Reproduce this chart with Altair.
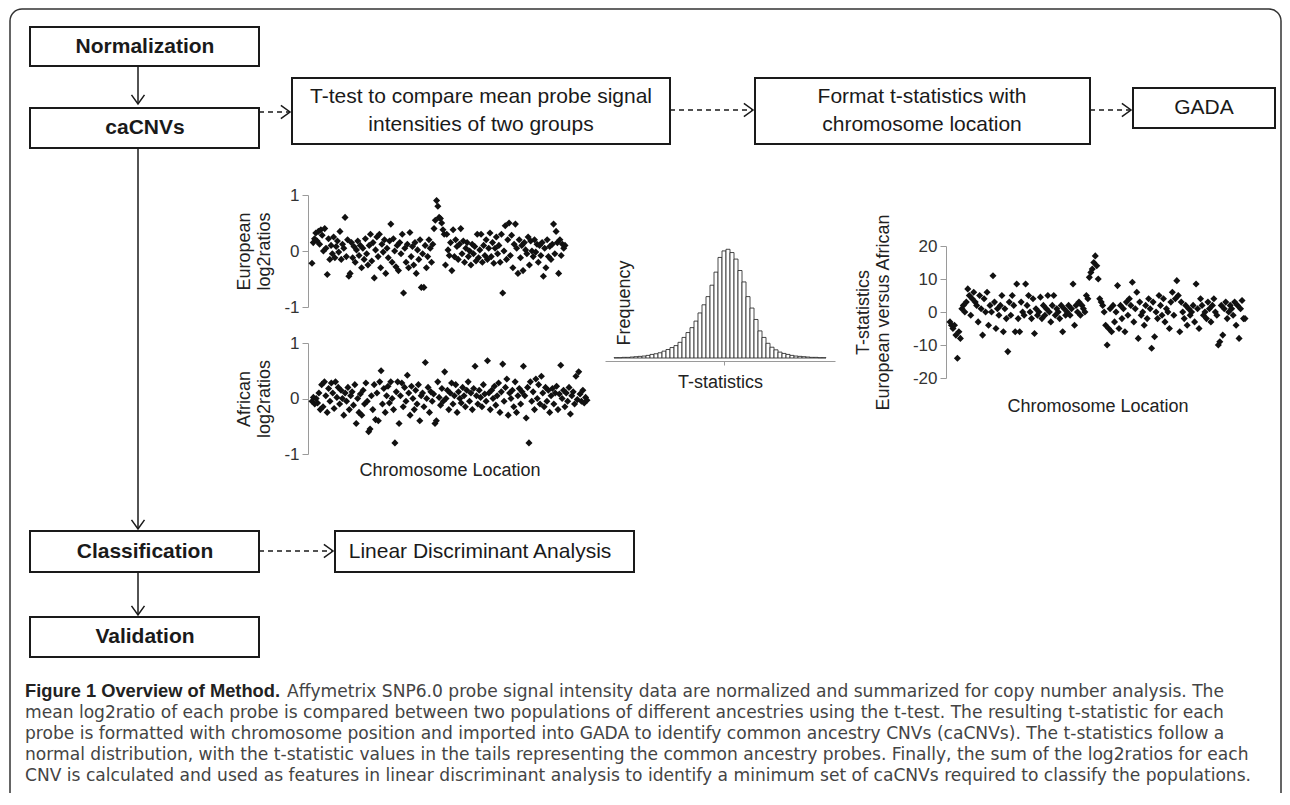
import altair as alt
import pandas as pd

# ---------------- values ----------------
european = [
    -0.22, 0.15, 0.22, 0.32, 0.18, 0.35, 0.12, 0.38, 0.28, 0.0, 0.4, 0.05, -0.42, 0.22, -0.15, 0.1, -0.05, 0.25, -0.12, 0.08,
    0.18, -0.02, 0.35, -0.15, 0.12, 0.05, 0.6, -0.1, 0.2, -0.45, -0.4, 0.15, -0.12, 0.08, -0.2, 0.02, 0.18, -0.08, 0.1, -0.3,
    0.05, -0.15, 0.22, -0.05, -0.25, 0.1, 0.3, -0.18, 0.15, -0.48, 0.02, 0.25, -0.1, 0.3, -0.3, 0.12, -0.02, 0.2, -0.4, 0.05,
    -0.12, 0.18, 0.48, -0.2, 0.22, 0.0, -0.28, 0.1, -0.35, 0.15, -0.05, 0.3, -0.75, 0.05, -0.2, 0.12, -0.3, 0.33, -0.1, 0.08,
    -0.25, 0.15, -0.4, 0.02, -0.15, 0.2, -0.65, -0.05, -0.65, 0.1, -0.3, -0.1, 0.2, 0.05, -0.2, 0.12, 0.4, 0.55, 0.9, 0.8,
    0.6, 0.58, 0.5, 0.38, 0.3, -0.25, 0.3, 0.02, -0.08, 0.15, -0.35, 0.38, -0.1, 0.2, 0.08, -0.15, 0.12, 0.4, -0.05, 0.18,
    -0.2, 0.05, 0.15, -0.1, 0.0, -0.25, 0.12, -0.05, 0.08, -0.18, 0.3, -0.12, 0.02, 0.3, -0.2, 0.1, -0.08, 0.2, -0.15, 0.05,
    0.32, -0.1, 0.15, -0.22, 0.05, 0.25, -0.05, 0.1, -0.2, 0.3, -0.75, 0.0, 0.45, -0.15, 0.2, 0.5, -0.08, 0.28, -0.3, 0.12,
    0.48, 0.05, -0.4, 0.2, -0.12, 0.1, -0.35, 0.15, 0.02, -0.05, 0.25, -0.25, 0.18, 0.0, -0.1, 0.2, -0.02, 0.12, -0.2, 0.1,
    -0.08, 0.15, -0.45, 0.05, -0.3, 0.2, -0.1, 0.08, -0.15, 0.12, 0.48, -0.05, 0.35, 0.15, -0.4, 0.2, -0.08, 0.12, 0.05, 0.1,
]
african = [
    -0.05, 0.02, -0.1, 0.0, -0.08, 0.1, -0.2, 0.25, -0.15, 0.3, 0.05, -0.25, 0.18, -0.05, 0.28, 0.1, -0.18, 0.3, 0.02, 0.2,
    -0.1, 0.15, 0.0, -0.3, 0.1, -0.05, 0.2, -0.2, 0.05, 0.12, -0.12, 0.25, -0.45, 0.0, -0.25, 0.08, -0.3, 0.15, -0.1, 0.28,
    -0.05, -0.6, -0.55, 0.05, -0.2, 0.25, -0.38, 0.1, -0.4, 0.3, 0.5, -0.1, 0.18, -0.25, 0.05, 0.22, -0.08, 0.3, 0.0, -0.2,
    -0.8, 0.12, 0.3, -0.45, 0.05, 0.28, -0.15, 0.2, -0.05, 0.42, 0.1, -0.3, 0.22, 0.0, -0.2, 0.15, -0.1, 0.25, -0.4, 0.05,
    0.1, -0.15, 0.65, 0.0, 0.2, -0.25, 0.12, -0.05, 0.08, -0.45, -0.4, 0.3, 0.02, -0.12, 0.18, -0.05, 0.48, 0.0, 0.15, -0.2,
    0.1, 0.28, -0.1, 0.05, 0.25, -0.25, 0.12, 0.0, -0.08, 0.2, 0.05, -0.15, 0.15, 0.3, -0.05, 0.1, -0.2, 0.18, 0.58, 0.05,
    -0.1, 0.15, 0.02, -0.15, 0.25, 0.08, -0.05, 0.68, 0.1, -0.2, 0.15, 0.0, 0.22, -0.12, 0.05, 0.28, -0.25, 0.12, 0.62, -0.05,
    0.2, 0.35, -0.3, 0.1, 0.0, 0.15, -0.15, 0.3, -0.25, 0.05, 0.18, -0.1, 0.12, 0.58, 0.05, -0.35, 0.2, -0.8, 0.3, -0.05,
    0.12, -0.2, 0.35, 0.0, 0.25, -0.1, 0.4, 0.1, -0.15, 0.2, -0.05, 0.15, -0.25, 0.05, 0.18, -0.1, 0.1, 0.22, -0.2, 0.08,
    0.6, 0.0, 0.15, -0.15, 0.1, -0.05, 0.2, -0.28, 0.05, 0.12, -0.1, 0.4, -0.02, 0.48, 0.08, -0.05, 0.15, -0.08, 0.02, -0.03,
]
tstat = [
    -3, -4, -5, -4, -7, -14, -6, -8, 1, 2, 0, 3, 7, 5, -1, 4, 6, 3, 2, -3,
    5, 1, -7, 4, 0, 6, -4, 2, 0, 11, 3, -5, 1, -1, 2, 5, -6, 1, -2, -12,
    3, -1, 5, 2, -6, 8.5, -2, -6, 3, 0, -1, 8.5, 2, 5, 0, -2, 4, -6.5, 1, -1,
    0, 4.5, -2, 2, -1, 1, 5, 0, -3, 2, 5, -1, 1, 0, -2, 2, -6, 1, -1, 0,
    2, -1, 1, 8.5, -4, 2, 0, 3, -1, 2, 1, 0, 5, 4, 10.5, 12, 13, 15, 17, 14,
    10, 4, 3, 2, 0, -4, -10, -5, 1, -6, 2, -3, 0, 8, -5, 2, -2, 1, -6, 3,
    -1, 4, 2, 9, -3, 1, 6, -8, 3, -1, 0, -4, 2, -2, 4, 1, -11, 3, -7.5, 0,
    -2, 5, 2, -1, 4, -3, 1, 0, -5, 3, 6, -1, 4, 9.5, 5, -6, 3, 0, -2, 2,
    -4, 1, -1, 0, 2, -3, 8.5, 1, -5, 4, 2, -1, 0, -2, 3, 1, -3, 2, 4, 0,
    -1, -10, -9, 2, -7, 1, 3, -2, 0, 2, 1, -1, 3, -4, 2, -8, 1, 3.5, -2, -2,
]
hist_counts = [1, 1, 2, 2, 3, 4, 5, 6, 8, 11, 13, 16, 21, 26, 32, 38, 48, 63, 78, 93,
               113, 138, 163, 188, 223, 263, 308, 328, 333, 323, 303, 268, 233, 188, 153, 118, 83, 63, 45, 33,
               25, 18, 14, 11, 8, 6, 5, 4, 3, 2, 2, 1, 1]
hist_t = list(range(-27, -27 + len(hist_counts)))

box_names = ["Normalization", "caCNVs", "Classification", "Validation"]
box_step_lines = ["T-test to compare mean probe signal", "intensities of two groups",
                  "Format t-statistics with", "chromosome location",
                  "GADA", "Linear Discriminant Analysis"]
caption_title = "Figure 1 Overview of Method."
caption_lines = [
    "Affymetrix SNP6.0 probe signal intensity data are normalized and summarized for copy number analysis. The",
    "mean log2ratio of each probe is compared between two populations of different ancestries using the t-test. The resulting t-statistic for each",
    "probe is formatted with chromosome position and imported into GADA to identify common ancestry CNVs (caCNVs). The t-statistics follow a",
    "normal distribution, with the t-statistic values in the tails representing the common ancestry probes. Finally, the sum of the log2ratios for each",
    "CNV is calculated and used as features in linear discriminant analysis to identify a minimum set of caCNVs required to classify the populations.",
]

# ---------------- layout (page pixels) ----------------
W, H = 1274, 785
M = 8
FONT = "Liberation Sans"
CAP_FONT = "DejaVu Sans"
INK = "#1a1a1a"


def sx():
    return alt.Scale(domain=[M, M + W], range=[0, W], nice=False, zero=False)


def sy():
    return alt.Scale(domain=[M, M + H], range=[0, H], nice=False, zero=False)


def pos():
    return dict(x=alt.X("x:Q", scale=sx(), axis=None),
                y=alt.Y("y:Q", scale=sy(), axis=None))


frame = pd.DataFrame({"x": [10], "x2": [1281], "y": [9], "y2": [900]})
boxes = pd.DataFrame({
    "x": [30, 30, 292, 755, 1133, 30, 335, 30],
    "x2": [259, 259, 670, 1090, 1275, 259, 634, 259],
    "y": [27, 108, 78, 78, 88, 531, 531, 617],
    "y2": [66, 148, 144, 144, 128, 572, 572, 657],
})
bold_lab = pd.DataFrame({"text": box_names, "x": [145, 145, 145, 145], "y": [47, 128, 552, 637]})
norm_lab = pd.DataFrame({"text": box_step_lines,
                         "x": [481, 481, 922, 922, 1204, 480],
                         "y": [97, 125, 97, 125, 108, 552]})
solid = pd.DataFrame({"x": [138, 138, 138], "y": [66, 148, 572], "x2": [138, 138, 138], "y2": [104, 529, 615]})
dashed = pd.DataFrame({"x": [259, 670, 1090, 259], "y": [112, 110, 110, 551],
                       "x2": [289, 752, 1130, 332], "y2": [112, 110, 110, 551]})
heads = pd.DataFrame({"x": [138, 138, 138, 290, 753, 1131, 333],
                      "y": [104, 529, 615, 112, 110, 110, 551],
                      "ang": [90, 90, 90, 0, 0, 0, 0]})
cap_df = pd.DataFrame({"text": caption_lines, "x": [287, 25, 25, 25, 25], "y": [692, 713, 734, 755, 776]})
cap_title_df = pd.DataFrame({"text": [caption_title], "x": [25], "y": [692]})

diagram = alt.layer(
    alt.Chart(frame).mark_rect(fillOpacity=0, stroke="#333", strokeWidth=1.5, cornerRadius=12).encode(
        x2="x2:Q", y2="y2:Q", **pos()),
    alt.Chart(boxes).mark_rect(fill="white", stroke=INK, strokeWidth=2).encode(x2="x2:Q", y2="y2:Q", **pos()),
    alt.Chart(solid).mark_rule(stroke=INK, strokeWidth=1.5).encode(x2="x2:Q", y2="y2:Q", **pos()),
    alt.Chart(dashed).mark_rule(stroke=INK, strokeWidth=1.5, strokeDash=[5, 4]).encode(x2="x2:Q", y2="y2:Q", **pos()),
    alt.Chart(heads).mark_point(shape="M -1.4 -1 L 0 0 L -1.4 1", filled=False, size=170, stroke=INK,
                                strokeWidth=1.5, opacity=1).encode(angle=alt.Angle("ang:Q", scale=None), **pos()),
    alt.Chart(bold_lab).mark_text(font=FONT, fontSize=21, fontWeight="bold", color=INK, align="center",
                                  baseline="middle").encode(text="text:N", **pos()),
    alt.Chart(norm_lab).mark_text(font=FONT, fontSize=21, color=INK, align="center",
                                  baseline="middle").encode(text="text:N", **pos()),
    alt.Chart(cap_title_df).mark_text(font=FONT, fontSize=18.3, fontWeight="bold", color="#222", align="left",
                                      baseline="middle").encode(text="text:N", **pos()),
    alt.Chart(cap_df).mark_text(font=CAP_FONT, fontSize=17.1, color="#444", align="left",
                                baseline="middle").encode(text="text:N", **pos()),
)

axis_style = dict(grid=False, domainColor="#9a9a9a", tickColor="#9a9a9a", labelColor="#333", labelFont=FONT,
                  labelFontSize=17, titleFont=FONT, titleFontSize=18, titleFontWeight="normal", titleColor="#222")


def scatter(values, x_left, x_right, y_bottom, y_top, axis_x, y_dom, y_ticks, y_title, title_pad, x_axis):
    df = pd.DataFrame({"pos": list(range(len(values))), "val": values})
    return alt.Chart(df).mark_point(shape="diamond", filled=True, size=50, color="#111", opacity=1).encode(
        x=alt.X("pos:Q", scale=alt.Scale(domain=[0, len(values) - 1], range=[x_left - M, x_right - M],
                                         nice=False, zero=False), axis=x_axis),
        y=alt.Y("val:Q", scale=alt.Scale(domain=y_dom, range=[y_bottom - M, y_top - M], nice=False, zero=False),
                axis=alt.Axis(orient="left", offset=-(axis_x - M), values=y_ticks, labelExpr="'' + datum.value",
                              tickSize=6, labelPadding=3, title=y_title, titlePadding=title_pad, **axis_style)),
    )


def loc_axis(y_px, pad):
    return alt.Axis(orient="bottom", offset=(y_px - M) - H, domain=False, ticks=False, labels=False,
                    title="Chromosome Location", titlePadding=pad, **axis_style)


eur = scatter(european, 312, 565, 307, 195, 308, [-1, 1], [-1, 0, 1], ["European", "log2ratios"], 10, None)
afr = scatter(african, 312, 587, 454, 343, 308, [-1, 1], [-1, 0, 1], ["African", "log2ratios"], 10,
              loc_axis(458, 3))
tst = scatter(tstat, 950, 1245, 378, 246, 946, [-20, 20], [-20, -10, 0, 10, 20],
              ["T-statistics", "European versus African"], 20, loc_axis(394, 3))

hist_df = pd.DataFrame({"t": hist_t, "count": hist_counts})
hist = alt.Chart(hist_df).transform_calculate(lo="datum.t - 0.5", hi="datum.t + 0.5").mark_bar(
    fill="white", stroke="#333", strokeWidth=0.9).encode(
    x=alt.X("lo:Q", scale=alt.Scale(domain=[-29.75, 27.75], range=[605 - M, 835 - M], nice=False, zero=False),
            axis=alt.Axis(orient="bottom", offset=(361 - M) - H, values=[0], labels=False, tickSize=4,
                          title="T-statistics", titlePadding=8, **axis_style)),
    x2="hi:Q",
    y=alt.Y("count:Q", scale=alt.Scale(domain=[0, 340], range=[358 - M, 247 - M], nice=False),
            axis=alt.Axis(orient="left", offset=-(633 - M), domain=False, ticks=False, labels=False,
                          title="Frequency", titlePadding=0, **axis_style)),
    y2=alt.datum(0),
)

chart = alt.layer(diagram, eur, afr, hist, tst).resolve_scale(
    x="independent", y="independent"
).properties(width=W, height=H, padding=0, autosize="none", background="white").configure_view(stroke=None)

chart.save("out.html", embed_options={"renderer": "svg", "actions": False})
